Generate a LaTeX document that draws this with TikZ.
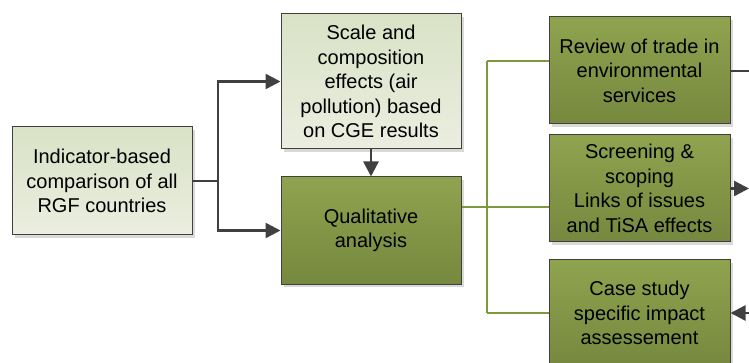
\documentclass[tikz,border=0pt]{standalone}
\usepackage{fontspec}
\setmainfont{Liberation Sans}
\usetikzlibrary{arrows.meta,shadows}
\definecolor{lighttop}{HTML}{D9E2C6}
\definecolor{lightbot}{HTML}{EBEEE0}
\definecolor{darktop}{HTML}{8FA34F}
\definecolor{darkbot}{HTML}{76883E}
\definecolor{edge}{HTML}{404040}
\definecolor{greenline}{HTML}{7C9A3C}
\tikzset{
  box/.style={draw=edge, line width=1pt, minimum width=180pt, align=center,
    font=\fontsize{20}{24.5}\selectfont, text=black, inner sep=0pt,
    drop shadow={shadow xshift=3pt, shadow yshift=-3pt, fill=black!15, opacity=1}},
  lightbox/.style={box, top color=lighttop, bottom color=lightbot},
  darkbox/.style={box, top color=darktop, bottom color=darkbot},
  conn/.style={draw=edge, line width=2.5pt},
  arr/.style={conn, -{Triangle[length=15pt,width=15pt]}},
  larr/.style={conn, {Triangle[length=15pt,width=15pt]}-},
  gconn/.style={draw=greenline, line width=2pt},
}
\begin{document}
\begin{tikzpicture}[x=1pt,y=-1pt]
\useasboundingbox (0,0) rectangle (749,363);
\node[lightbox, minimum height=108pt] (ind) at (102,181) {Indicator-based\\comparison of all\\RGF countries};
\node[lightbox, minimum height=135pt] (scale) at (371,81.5) {Scale and\\composition\\effects (air\\pollution) based\\on CGE results};
\node[darkbox, minimum height=107pt] (qual) at (371,230.5) {Qualitative\\analysis};
\node[darkbox, minimum width=181pt, minimum height=107pt] (rev) at (639.5,70.5) {Review of trade in\\environmental\\services};
\node[darkbox, minimum width=181pt, minimum height=107pt] (scr) at (639.5,188.5) {Screening \&\\scoping\\Links of issues\\and TiSA effects};
\node[darkbox, minimum width=181pt, minimum height=106pt] (case) at (639.5,313) {Case study\\specific impact\\assessement};
% gray connectors
\coordinate (j1) at (218,181);
\draw[conn] (ind.east |- j1) -- (j1);
\draw[arr] (j1) |- (scale.west);
\draw[arr] (j1) |- (qual.west);
\draw[arr] (scale.south) -- (qual.north);
% green connectors
\coordinate (g) at (487,207);
\coordinate (gt) at (487,61);
\coordinate (gb) at (487,313);
\draw[gconn] (qual.east |- g) -- (g);
\draw[gconn] (gt) -- (gb);
\draw[gconn] (gt) -- (rev.west |- gt);
\draw[gconn] (g) -- (scr.west |- g);
\draw[gconn] (gb) -- (case.west);
% right edge connectors
\coordinate (e1) at (749,71);
\coordinate (e2) at (749,188.5);
\coordinate (e3) at (749,313);
\draw[conn, line width=2pt] (rev.east |- e1) -- (e1);
\draw[arr] (scr.east) -- (e2);
\draw[larr] (case.east) -- (e3);
\end{tikzpicture}
\end{document}
